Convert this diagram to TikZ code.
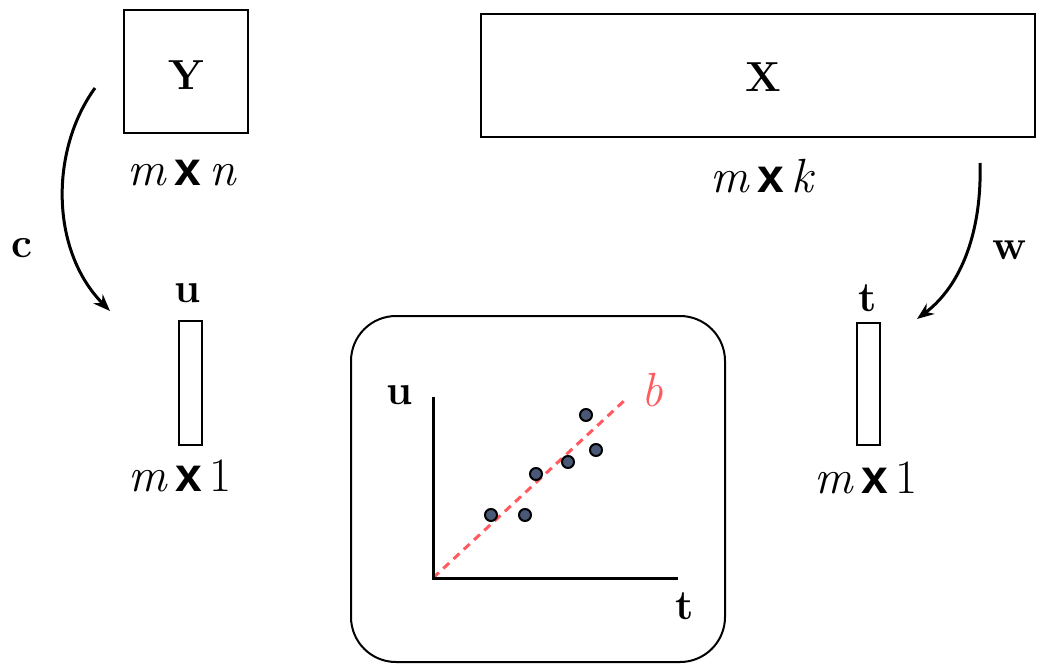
\documentclass[tikz,border=0pt]{standalone}
\usepackage{fontspec}
\newfontfamily\crossfont{Liberation Sans}
\usetikzlibrary{arrows.meta}
\definecolor{dotfill}{HTML}{4A5878}
\definecolor{fitred}{HTML}{FF5A5F}
\newcommand{\bx}{\hspace{0.16em}{\crossfont\bfseries x}\hspace{0.16em}}
\begin{document}
\begin{tikzpicture}[x=1pt,y=-1pt,
  big/.style={font=\fontsize{42}{50}\selectfont, inner sep=0pt},
  dim/.style={font=\fontsize{48}{56}\selectfont, inner sep=0pt},
  mat/.style={draw, line width=2pt},
  conn/.style={line width=3pt, -{Stealth[length=17pt,width=13pt]}},
  dot/.style={circle, draw, line width=2pt, fill=dotfill, minimum size=12pt, inner sep=0pt},
]
\useasboundingbox (0,0) rectangle (1043,664);
% matrices
\draw[mat] (124,10) rectangle (248,133);
\node[big] (Y) at (186,75) {\textbf{Y}};
\node[dim] (mn) at (182,173) {\textit{m}\bx\textit{n}};
\draw[mat] (481,14) rectangle (1035,137);
\node[big] (X) at (763,77) {\textbf{X}};
\node[dim] (mk) at (763,176) {\textit{m}\bx\textit{k}};
% vectors
\node[big] (u) at (188,293) {\textbf{u}};
\draw[mat] (179,321) rectangle (202,445);
\node[dim] (m1a) at (180,476) {\textit{m}\bx 1};
\node[big] (t) at (868,298) {\textbf{t}};
\draw[mat] (857,323) rectangle (880,445);
\node[dim] (m1b) at (866,478) {\textit{m}\bx 1};
% arrows
\coordinate (cs) at (95,88);
\coordinate (ce) at (110,311);
\draw[conn] (cs) .. controls (50,150) and (50,250) .. (ce);
\node[big] (c) at (22,248) {\textbf{c}};
\coordinate (ws) at (980,163);
\coordinate (we) at (917,319);
\draw[conn] (ws) .. controls (982,230) and (962,285) .. (we);
\node[big] (w) at (1010,250) {\textbf{w}};
% plot
\draw[line width=2pt, rounded corners=45pt] (351,316) rectangle (725,662);
\coordinate (O) at (433,578);
\coordinate (yt) at (433,397);
\coordinate (xe) at (678,578);
\coordinate (be) at (625,400);
\draw[fitred, line width=3pt, dash pattern=on 8pt off 6pt] (O) -- (be);
\draw[line width=3pt] (yt) -- (O) -- (xe);
\node[big] (ul) at (400,395) {\textbf{u}};
\node[big] (tl) at (685,606) {\textbf{t}};
\node[dim, text=fitred] (b) at (652,390) {\textit{b}};
\foreach \n/\p in {d1/{(491,515)}, d2/{(525,515)}, d3/{(536,474)}, d4/{(568,462)}, d5/{(586,415)}, d6/{(596,450)}}
  \node[dot] (\n) at \p {};
\end{tikzpicture}
\end{document}
